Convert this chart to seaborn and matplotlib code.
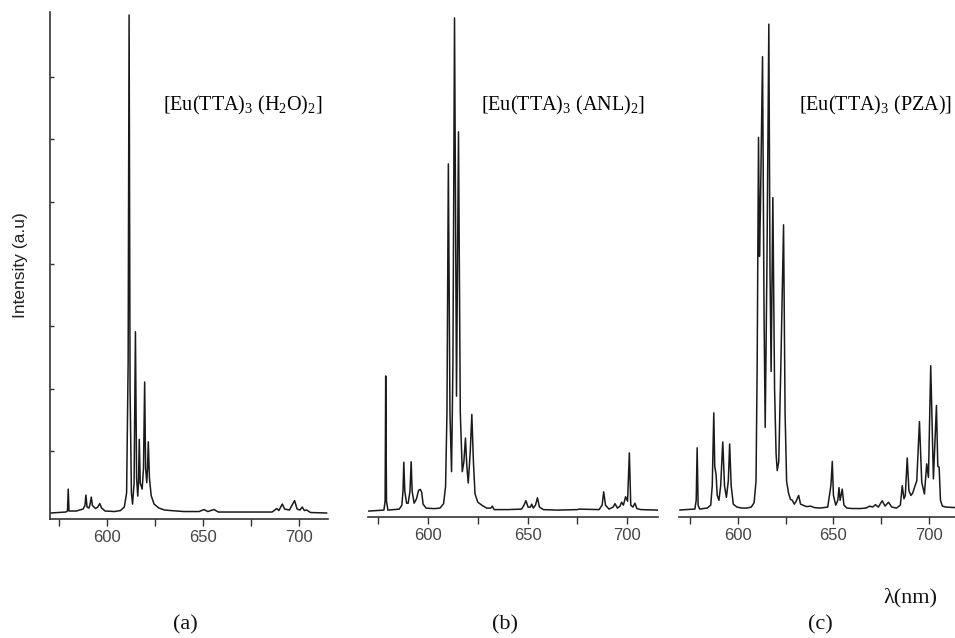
import matplotlib
matplotlib.use("Agg")
import matplotlib.pyplot as plt
import seaborn as sns

# Emission spectra (normalised to the strongest band of each panel)
wl_h2o = [570.5, 578.5, 579.4, 579.8, 580.2, 584, 587.5, 588.5, 589.0, 589.6, 590.6, 591.2,
          591.8, 592.4, 594, 595.2, 596.2, 597.2, 599, 604, 607, 609, 610.2, 611.0, 611.5,
          612.0, 612.7, 613.3, 614.1, 614.8, 615.4, 616.0, 616.4, 616.8, 617.3, 618.3, 619.0,
          619.6, 620.1, 620.7, 621.1, 621.5, 622.1, 623.0, 624.5, 627, 630, 633, 640, 648,
          650.5, 652.5, 655.7, 658, 670, 686, 688.4, 689.5, 691.3, 692.5, 695, 697.7, 699,
          700.5, 701.7, 702.8, 704, 706, 714.5]
int_h2o = [0.0, 0.002, 0.004, 0.048, 0.004, 0.004, 0.008, 0.015, 0.036, 0.012, 0.010, 0.018,
           0.032, 0.015, 0.009, 0.012, 0.019, 0.010, 0.004, 0.003, 0.005, 0.012, 0.04, 0.30, 1.0,
           0.25, 0.04, 0.018, 0.06, 0.364, 0.07, 0.034, 0.06, 0.148, 0.06, 0.048, 0.09,
           0.263, 0.09, 0.061, 0.09, 0.143, 0.07, 0.035, 0.018, 0.010, 0.006, 0.005, 0.003, 0.003,
           0.007, 0.003, 0.007, 0.002, 0.002, 0.002, 0.009, 0.005, 0.018, 0.008, 0.006, 0.025, 0.008,
           0.006, 0.012, 0.005, 0.006, 0.001, 0.0]

wl_anl = [570, 577.8, 578.4, 578.7, 579.1, 579.8, 585.5, 586.8, 587.4, 587.8, 588.3, 589.2,
          590.0, 590.9, 591.5, 592.0, 593.0, 594.2, 595.2, 596.1, 596.8, 597.5, 599, 603, 606,
          607.8, 608.8, 609.5, 610.2, 611.0, 611.8, 612.5, 613.3, 614.3, 615.3, 616.2, 617.2,
          618.0, 618.8, 619.5, 620.2, 621.2, 622.0, 622.8, 623.6, 625, 627, 629.5, 631.5, 632.3,
          633.2, 640, 647, 648.2, 649.2, 650.3, 651.4, 652.1, 652.9, 654.0, 655.0, 656.0, 658,
          665, 675, 676, 686, 687.5, 688.3, 689.2, 691, 693, 694, 695.2, 696.5, 697.3, 698.2,
          699.3, 700.3, 701.2, 701.9, 703, 704, 705, 707, 715.5]
int_anl = [0.0, 0.002, 0.02, 0.274, 0.02, 0.002, 0.004, 0.012, 0.04, 0.099, 0.04, 0.016,
           0.016, 0.04, 0.10, 0.04, 0.016, 0.025, 0.042, 0.044, 0.038, 0.014, 0.006, 0.005, 0.006,
           0.015, 0.05, 0.20, 0.704, 0.20, 0.08, 0.30, 1.0, 0.233, 0.769, 0.20, 0.08,
           0.10, 0.148, 0.09, 0.057, 0.12, 0.196, 0.10, 0.035, 0.018, 0.012, 0.006, 0.006, 0.010,
           0.003, 0.003, 0.004, 0.012, 0.021, 0.008, 0.008, 0.014, 0.006, 0.012, 0.027, 0.008, 0.003,
           0.002, 0.003, 0.004, 0.003, 0.012, 0.039, 0.012, 0.004, 0.008, 0.015, 0.006, 0.010, 0.018, 0.012,
           0.029, 0.020, 0.118, 0.012, 0.008, 0.016, 0.005, 0.003, 0.002]

wl_pza = [569.5, 577.5, 578.2, 578.7, 579.2, 580, 584, 585.8, 586.6, 587.4, 587.9, 588.6,
          589.2, 590.1, 591.0, 592.1, 593.0, 594.0, 595.0, 595.7, 596.5, 597.6, 599.5, 602,
          604.7, 607, 608.5, 609.5, 610.1, 610.8, 611.3, 611.8, 612.9, 613.7, 614.3, 615.2,
          616.2, 616.8, 617.4, 618.3, 619.2, 620.0, 620.6, 621.4, 622.5, 623.9, 624.7, 625.5,
          626.5, 627.5, 628.5, 629.5, 630.5, 631.8, 632.8, 634, 636, 638, 640, 643, 645, 647,
          648.3, 648.7, 649.4, 650.0, 651.2, 652.3, 652.9, 653.5, 654.6, 655.5, 657, 660, 664,
          667, 669, 670.5, 672, 673.5, 675.5, 677, 678.8, 680.5, 683, 685, 686.0, 686.9, 687.6,
          688.6, 689.5, 690.5, 691.5, 692.7, 693.6, 695.0, 696.2, 697.6, 698.8, 699.7, 700.9,
          702.3, 703.9, 704.6, 705.3, 706.0, 707.0, 709, 713.5]
int_pza = [0.0, 0.002, 0.02, 0.128, 0.01, 0.002, 0.004, 0.01, 0.05, 0.20, 0.09, 0.073,
           0.03, 0.02, 0.05, 0.14, 0.05, 0.026, 0.06, 0.136, 0.05, 0.012, 0.006, 0.004,
           0.004, 0.006, 0.015, 0.06, 0.30, 0.767, 0.522, 0.622, 0.933, 0.40, 0.17, 0.50,
           1.0, 0.50, 0.285, 0.643, 0.25, 0.115, 0.081, 0.10, 0.30, 0.587, 0.20, 0.059,
           0.035, 0.022, 0.020, 0.012, 0.018, 0.030, 0.012, 0.010, 0.007, 0.008, 0.005, 0.004, 0.005, 0.006,
           0.040, 0.052, 0.10, 0.030, 0.010, 0.020, 0.046, 0.020, 0.043, 0.010, 0.004, 0.003, 0.003,
           0.004, 0.008, 0.006, 0.011, 0.006, 0.019, 0.008, 0.016, 0.006, 0.004, 0.010, 0.050, 0.023, 0.030,
           0.107, 0.040, 0.030, 0.035, 0.050, 0.060, 0.182, 0.057, 0.033, 0.095, 0.067, 0.297,
           0.064, 0.215, 0.09, 0.088, 0.02, 0.008, 0.006, 0.005]

panel_names = [r"[Eu(TTA)$_3$ (H$_2$O)$_2$]", r"[Eu(TTA)$_3$ (ANL)$_2$]", r"[Eu(TTA)$_3$ (PZA)]"]
panel_tags = ["(a)", "(b)", "(c)"]
x_ticks = [600, 650, 700]
x_minor = [575, 625, 675]
y_ticks = [0.125, 0.25, 0.375, 0.5, 0.625, 0.75, 0.875]

sns.set_theme(style="white")
plt.rcParams["mathtext.fontset"] = "custom"
plt.rcParams["mathtext.rm"] = "Liberation Serif"
plt.rcParams["mathtext.it"] = "Liberation Serif:italic"

fig = plt.figure(figsize=(9.55, 6.38), dpi=100)

boxes = [(50 / 955, 1 - 519 / 638, 278 / 955, 507 / 638),
         (368 / 955, 1 - 517 / 638, 290 / 955, 505 / 638),
         (679 / 955, 1 - 517 / 638, 276 / 955, 505 / 638)]
xlims = [(570.3, 715.1), (569.8, 715.6), (569.2, 713.6)]
ylims = [(-0.012, 1.006), (-0.012, 1.012), (-0.0144, 1.025)]
spectra = [(wl_h2o, int_h2o), (wl_anl, int_anl), (wl_pza, int_pza)]
label_x = [163, 481, 799]
tag_x = [185, 505, 820]

line_col = "#1a1a1a"
for i, (box, (wl, inten)) in enumerate(zip(boxes, spectra)):
    ax = fig.add_axes(box)
    sns.lineplot(x=wl, y=inten, ax=ax, color=line_col, lw=1.1, sort=False, estimator=None)
    ax.set_xlim(*xlims[i])
    ax.set_ylim(*ylims[i])
    ax.set_xticks(x_ticks)
    ax.set_xticks(x_minor, minor=True)
    ax.tick_params(axis="x", which="both", direction="out", length=5, width=1,
                   color="#333333", bottom=True, labelsize=12, labelcolor="#444444", pad=3)
    for sp in ["top", "right"]:
        ax.spines[sp].set_visible(False)
    ax.spines["bottom"].set_color("#333333")
    ax.spines["bottom"].set_linewidth(1.2)
    if i == 0:
        ax.spines["left"].set_color("#333333")
        ax.spines["left"].set_linewidth(1.2)
        ax.set_yticks(y_ticks)
        ax.tick_params(axis="y", direction="in", length=3, width=1, color="#333333",
                       left=True, labelleft=False)
        ax.set_ylabel("Intensity (a.u)", fontsize=12.5, family="Liberation Sans",
                      color="#222222", labelpad=16)
    else:
        ax.spines["left"].set_visible(False)
        ax.set_yticks([])
    ax.set_xlabel("")
    ax.set_facecolor("none")
    for lab in ax.get_xticklabels():
        lab.set_family("Liberation Sans")
    fig.text(label_x[i] / 955, 1 - 105 / 638, panel_names[i], family="Liberation Serif",
             fontsize=14.5, ha="left", va="center", color="black")
    fig.text(tag_x[i] / 955, 1 - 625 / 638, panel_tags[i], family="Liberation Serif",
             fontsize=16, ha="center", va="center", color="#111111")

fig.text(910 / 955, 1 - 598 / 638, "λ(nm)", family="Liberation Serif", fontsize=16,
         ha="center", va="center", color="#111111")

fig.savefig("out.png", dpi=100)
